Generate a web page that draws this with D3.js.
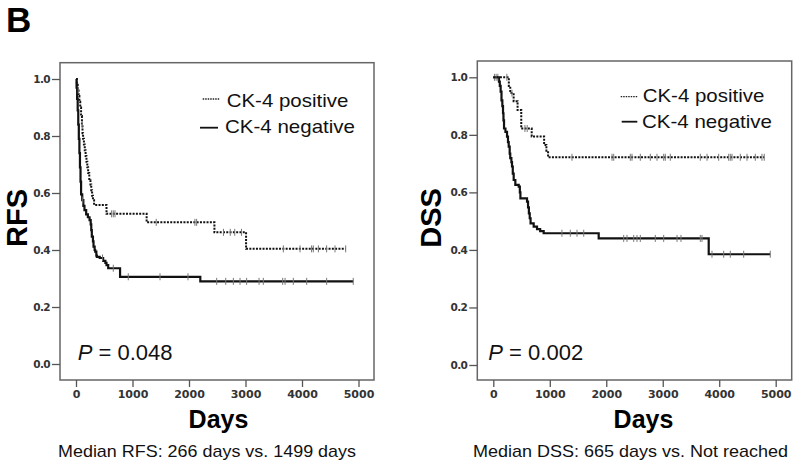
<!DOCTYPE html>
<html>
<head>
<meta charset="utf-8">
<script src="https://cdn.jsdelivr.net/npm/d3@7"></script>
<style>
  html, body { margin: 0; padding: 0; background: #fff; }
  svg { display: block; }
</style>
</head>
<body>
<svg id="chart" width="800" height="469"></svg>
<script>
// ---------------- DATA ----------------
const xTicks = [0, 1000, 2000, 3000, 4000, 5000];
const yTicks = [0.0, 0.2, 0.4, 0.6, 0.8, 1.0];
const seriesNames = ["CK-4 positive", "CK-4 negative"];

// RFS, CK-4 positive (dotted)
const rfsPosTime = [0, 15, 30, 45, 60, 75, 90, 105, 115, 125, 140, 155, 170, 185, 200, 215, 235, 255, 270, 285, 300, 320, 540, 1250, 2450, 3010];
const rfsPosSurv = [1.0, 0.98, 0.96, 0.94, 0.92, 0.90, 0.87, 0.84, 0.81, 0.79, 0.77, 0.75, 0.73, 0.71, 0.69, 0.67, 0.645, 0.63, 0.61, 0.59, 0.575, 0.558, 0.527, 0.497, 0.462, 0.404];
const rfsPosEnd = 4773;
const rfsPosCensor = [40, 110, 630, 660, 690, 1420, 2105, 2135, 2610, 2730, 2810, 2930, 3670, 3965, 4170, 4200, 4290, 4436, 4584, 4773];

// RFS, CK-4 negative (solid)
const rfsNegTime = [0, 10, 20, 30, 40, 50, 60, 70, 80, 90, 110, 130, 150, 180, 210, 240, 260, 270, 280, 300, 310, 330, 340, 360, 370, 420, 480, 520, 540, 570, 780, 2200];
const rfsNegSurv = [1.0, 0.97, 0.93, 0.89, 0.84, 0.79, 0.74, 0.69, 0.64, 0.595, 0.575, 0.555, 0.54, 0.525, 0.515, 0.505, 0.49, 0.47, 0.447, 0.43, 0.412, 0.40, 0.394, 0.38, 0.376, 0.372, 0.362, 0.355, 0.347, 0.336, 0.306, 0.29];
const rfsNegEnd = 4907;
const rfsNegCensor = [120, 470, 660, 925, 1487, 1982, 2490, 2650, 2785, 2903, 3020, 3240, 3315, 3658, 3700, 3846, 4083, 4436, 4907];

// DSS, CK-4 positive (dotted)
const dssPosTime = [0, 275, 300, 360, 430, 495, 680, 900, 940, 970];
const dssPosSurv = [1.0, 0.97, 0.945, 0.917, 0.886, 0.822, 0.794, 0.765, 0.745, 0.722];
const dssPosEnd = 4797;
const dssPosCensor = [240, 330, 560, 600, 1393, 2102, 2132, 2426, 2456, 2603, 2780, 2898, 3017, 3045, 3134, 3665, 3784, 3991, 4168, 4196, 4226, 4373, 4492, 4639, 4757, 4797];

// DSS, CK-4 negative (solid)
const dssNegTime = [0, 100, 115, 130, 145, 160, 172, 180, 190, 215, 243, 260, 273, 290, 300, 320, 331, 345, 361, 390, 450, 470, 480, 597, 615, 630, 645, 660, 715, 774, 830, 892, 1866, 3814];
const dssNegSurv = [1.0, 0.985, 0.97, 0.95, 0.92, 0.90, 0.875, 0.85, 0.822, 0.81, 0.794, 0.775, 0.759, 0.735, 0.719, 0.705, 0.69, 0.665, 0.643, 0.626, 0.62, 0.60, 0.579, 0.568, 0.548, 0.527, 0.51, 0.492, 0.481, 0.472, 0.465, 0.458, 0.44, 0.385];
const dssNegEnd = 4904;
const dssNegCensor = [20, 50, 80, 1215, 1363, 1482, 1601, 2309, 2367, 2486, 2544, 2603, 2868, 3017, 3253, 3323, 3665, 3695, 3872, 4079, 4196, 4433, 4904];

const panelLetter = "B";
const yTitles = ["RFS", "DSS"];
const xTitle = "Days";
const pTexts = ["0.048", "0.002"];
const medianTexts = ["Median RFS: 266 days vs. 1499 days", "Median DSS: 665 days vs. Not reached"];

// ---------------- DRAW ----------------
const svg = d3.select("#chart");
const SANS = "'Liberation Sans', Arial, Helvetica, sans-serif";
const TICKFONT = "'DejaVu Sans', sans-serif";

svg.append("text")
  .attr("x", 6).attr("y", 32)
  .attr("font-family", SANS).attr("font-weight", "bold").attr("font-size", 35)
  .attr("fill", "#000").text(panelLetter);

const panels = [
  {
    frame: {l: 60, t: 62.7, r: 374, b: 380},
    xr: [76, 358.5], yr: [364, 79],
    pos: {time: rfsPosTime, surv: rfsPosSurv, end: rfsPosEnd, cens: rfsPosCensor},
    neg: {time: rfsNegTime, surv: rfsNegSurv, end: rfsNegEnd, cens: rfsNegCensor},
    yTitle: yTitles[0], yTitleX: 27, yTitleY: 218,
    xTitleX: 218.5,
    legend: {posLine: [202.7, 219.3, 99], negLine: [200, 218, 127.7], posText: [226.7, 106.7], negText: [225, 133.3]},
    p: {x: 77.7, y: 360, text: pTexts[0]},
    median: {x: 207, text: medianTexts[0], w: 298}
  },
  {
    frame: {l: 477.3, t: 61, r: 791.7, b: 380},
    xr: [493.3, 775.7], yr: [365, 77.3],
    pos: {time: dssPosTime, surv: dssPosSurv, end: dssPosEnd, cens: dssPosCensor},
    neg: {time: dssNegTime, surv: dssNegSurv, end: dssNegEnd, cens: dssNegCensor},
    yTitle: yTitles[1], yTitleX: 441, yTitleY: 218,
    xTitleX: 643.5,
    legend: {posLine: [620.7, 637.3, 96.7], negLine: [621.7, 637.3, 121.7], posText: [642.7, 101.7], negText: [642, 128.3]},
    p: {x: 488.3, y: 360, text: pTexts[1]},
    median: {x: 630.5, text: medianTexts[1], w: 315}
  }
];

function survAt(series, t) {
  let v = series.surv[0];
  for (let i = 0; i < series.time.length; i++) {
    if (series.time[i] <= t) v = series.surv[i];
  }
  return v;
}

panels.forEach(P => {
  const g = svg.append("g");
  const x = d3.scaleLinear().domain([0, 5000]).range(P.xr);
  const y = d3.scaleLinear().domain([0, 1]).range(P.yr);
  const f = P.frame;

  // frame
  g.append("rect")
    .attr("x", f.l).attr("y", f.t).attr("width", f.r - f.l).attr("height", f.b - f.t)
    .attr("fill", "none").attr("stroke", "#666").attr("stroke-width", 1.5);

  // axes
  const xAxis = g.append("g").attr("transform", `translate(0,${f.b})`)
    .call(d3.axisBottom(x).tickValues(xTicks).tickSize(7).tickPadding(3).tickFormat(d3.format("d")));
  const yAxis = g.append("g").attr("transform", `translate(${f.l},0)`)
    .call(d3.axisLeft(y).tickValues(yTicks).tickSize(8).tickPadding(2).tickFormat(d3.format(".1f")));
  [xAxis, yAxis].forEach(a => {
    a.select(".domain").remove();
    a.selectAll(".tick line").attr("stroke", "#555").attr("stroke-width", 1.3);
    a.selectAll(".tick text").attr("fill", "#333").attr("font-family", TICKFONT)
      .attr("font-weight", "bold").attr("font-size", 11);
  });
  yAxis.selectAll(".tick text").attr("font-size", 10.5).attr("letter-spacing", -0.6);

  // KM curves
  const line = d3.line().x(d => x(d[0])).y(d => y(d[1])).curve(d3.curveStepAfter);
  function curve(series, dotted) {
    const pts = series.time.map((t, i) => [t, series.surv[i]]);
    pts.push([series.end, series.surv[series.surv.length - 1]]);
    const path = g.append("path").datum(pts).attr("d", line)
      .attr("fill", "none").attr("stroke", "#111")
      .attr("stroke-width", dotted ? 2 : 2.2);
    if (dotted) path.attr("stroke-dasharray", "2,1.3");
    g.append("g").selectAll("line").data(series.cens).join("line")
      .attr("x1", d => x(d)).attr("x2", d => x(d))
      .attr("y1", d => y(survAt(series, d)) - 3.5)
      .attr("y2", d => y(survAt(series, d)) + 3.5)
      .attr("stroke", "#777").attr("stroke-width", 1);
  }
  curve(P.neg, false);
  curve(P.pos, true);

  // legend
  const L = P.legend;
  g.append("line").attr("x1", L.posLine[0]).attr("x2", L.posLine[1])
    .attr("y1", L.posLine[2]).attr("y2", L.posLine[2])
    .attr("stroke", "#222").attr("stroke-width", 1.3).attr("stroke-dasharray", "1.5,1");
  g.append("line").attr("x1", L.negLine[0]).attr("x2", L.negLine[1])
    .attr("y1", L.negLine[2]).attr("y2", L.negLine[2])
    .attr("stroke", "#111").attr("stroke-width", 1.8);
  g.append("text").attr("x", L.posText[0]).attr("y", L.posText[1])
    .attr("font-family", SANS).attr("font-size", 19).attr("fill", "#111")
    .attr("textLength", 121.6).attr("lengthAdjust", "spacingAndGlyphs")
    .text(seriesNames[0]);
  g.append("text").attr("x", L.negText[0]).attr("y", L.negText[1])
    .attr("font-family", SANS).attr("font-size", 19).attr("fill", "#111")
    .attr("textLength", 130).attr("lengthAdjust", "spacingAndGlyphs")
    .text(seriesNames[1]);

  // P value
  const pt = g.append("text").attr("x", P.p.x).attr("y", P.p.y)
    .attr("font-family", SANS).attr("font-size", 22).attr("fill", "#111");
  pt.append("tspan").attr("font-style", "italic").text("P");
  pt.append("tspan").text(" = " + P.p.text);

  // titles
  g.append("text")
    .attr("transform", `translate(${P.yTitleX},${P.yTitleY}) rotate(-90)`)
    .attr("text-anchor", "middle")
    .attr("font-family", SANS).attr("font-weight", "bold").attr("font-size", 29)
    .attr("fill", "#000").text(P.yTitle);
  g.append("text").attr("x", P.xTitleX).attr("y", 428)
    .attr("text-anchor", "middle")
    .attr("font-family", SANS).attr("font-weight", "bold").attr("font-size", 25)
    .attr("fill", "#000").text(xTitle);
  g.append("text").attr("x", P.median.x).attr("y", 456.7)
    .attr("text-anchor", "middle")
    .attr("font-family", SANS).attr("font-size", 17)
    .attr("textLength", P.median.w).attr("lengthAdjust", "spacingAndGlyphs")
    .attr("fill", "#111").text(P.median.text);
});
</script>
</body>
</html>
